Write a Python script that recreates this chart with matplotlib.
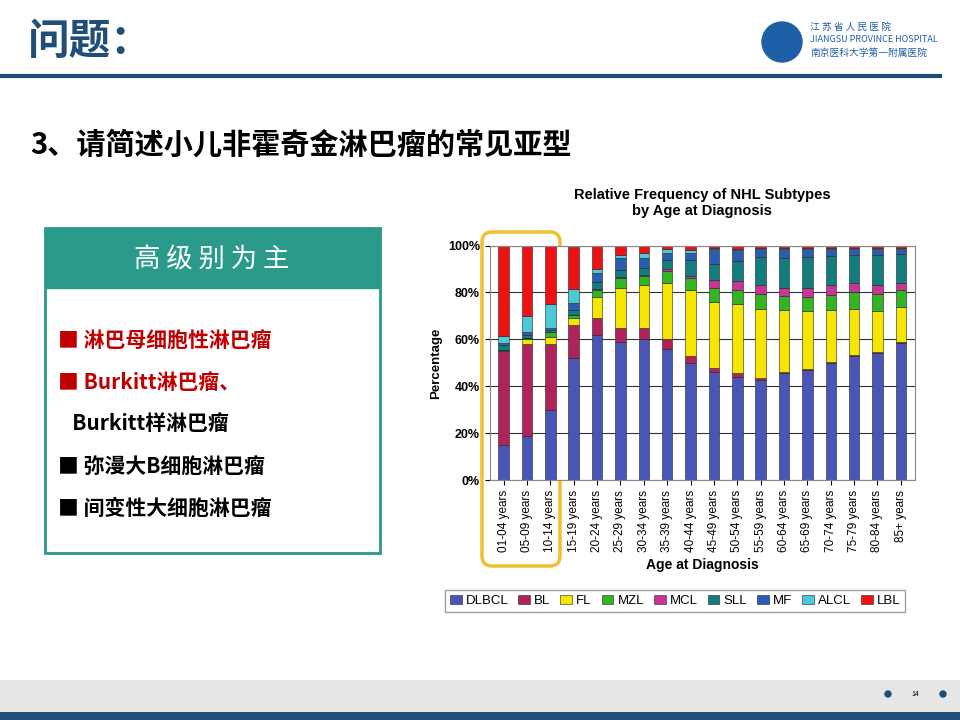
import matplotlib
matplotlib.use("Agg")
import matplotlib.pyplot as plt
from matplotlib.patches import Rectangle, FancyBboxPatch
import numpy as np

plt.rcParams['font.family'] = ['Noto Sans CJK SC', 'DejaVu Sans']
CF = 'Liberation Sans'

ages = ["01-04 years", "05-09 years", "10-14 years", "15-19 years", "20-24 years", "25-29 years",
        "30-34 years", "35-39 years", "40-44 years", "45-49 years", "50-54 years", "55-59 years",
        "60-64 years", "65-69 years", "70-74 years", "75-79 years", "80-84 years", "85+ years"]
subtypes = ["DLBCL", "BL", "FL", "MZL", "MCL", "SLL", "MF", "ALCL", "LBL"]
colors = ["#4a55b8", "#b0225a", "#f5e600", "#33b522", "#cc3399", "#137c7c", "#2a5cb0", "#4cc8d8", "#ee1111"]
DLBCL = [15, 19, 30, 52, 62, 59, 60, 56, 50, 46, 44, 42.5, 45.5, 47, 50, 53, 54, 58.5]
BL    = [40, 39, 28, 14, 7, 6, 5, 4, 3, 2, 1.5, 1, 0.5, 0.5, 0.5, 0.5, 0.5, 0.5]
FL    = [0, 2, 3, 3, 9, 17, 18, 24, 28, 28, 29.5, 29.5, 26.5, 24.5, 22, 19.5, 17.5, 15]
MZL   = [0.5, 0.5, 2, 1.5, 3, 4, 4, 5, 5, 6, 6, 6.5, 6, 6, 6.5, 7, 7.5, 7]
MCL   = [0, 0, 0, 0, 0.5, 0.5, 0.5, 1, 1, 3.5, 4, 3.5, 3.5, 4, 4, 4, 3.5, 3]
SLL   = [2, 1.5, 1, 2, 3, 3, 3, 4, 7, 6.5, 8.5, 12, 12.5, 13, 12.5, 12, 13, 12.5]
MF    = [1, 1, 1, 3, 4, 5, 4, 3, 3, 6.5, 4.5, 3.5, 4, 3.5, 3, 2.5, 2.5, 2]
ALCL  = [3, 7, 10, 6, 1.5, 1.5, 2.5, 1.5, 1, 0.5, 0.5, 0.5, 0.5, 0.5, 0.5, 0.5, 0.5, 0.5]
LBL   = [38.5, 30, 25, 18, 11, 4, 3, 1.5, 2, 1, 1.5, 1.5, 1, 1, 1, 1, 1, 1]
series = [DLBCL, BL, FL, MZL, MCL, SLL, MF, ALCL, LBL]
yticks = [0, 20, 40, 60, 80, 100]

fig = plt.figure(figsize=(9.6, 7.2), dpi=100)
bg = fig.add_axes([0, 0, 1, 1]); bg.set_xlim(0, 960); bg.set_ylim(720, 0); bg.axis('off')

# header
bg.text(28, 42, "问题：", fontsize=30, fontweight='bold', color='#1f4e79', va='center')
bg.plot([0, 940], [76, 76], color='#1f4e79', lw=3)
bg.add_patch(plt.Circle((782, 42), 20, color='#1f5fa8'))
bg.text(810, 27, "江 苏 省 人 民 医 院", fontsize=7, color='#1f5fa8', va='center')
bg.text(810, 40, "JIANGSU PROVINCE HOSPITAL", fontsize=6.5, color='#1f5fa8', va='center')
bg.text(810, 53, "南京医科大学第一附属医院", fontsize=7, color='#1f5fa8', va='center')
bg.text(30, 145, "3、请简述小儿非霍奇金淋巴瘤的常见亚型", fontsize=21, fontweight='bold', color='black', va='center')

# left box
bg.add_patch(Rectangle((45, 228), 335, 325, facecolor='white', edgecolor='#2a9a8a', lw=2))
bg.add_patch(Rectangle((45, 228), 335, 60, facecolor='#2a9a8a', edgecolor='#2a9a8a'))
bg.text(212, 260, "高 级 别 为 主", fontsize=19, color='white', ha='center', va='center')
items = [("■ 淋巴母细胞性淋巴瘤", '#c00000', 340),
         ("■ Burkitt淋巴瘤、", '#c00000', 382),
         ("   Burkitt样淋巴瘤", 'black', 423),
         ("■ 弥漫大B细胞淋巴瘤", 'black', 466),
         ("■ 间变性大细胞淋巴瘤", 'black', 508)]
for t, c, y in items:
    bg.text(58, y, t, fontsize=15, color=c, va='center', fontweight='bold')

# footer
bg.add_patch(Rectangle((0, 680), 960, 32, facecolor='#e6e6e6', edgecolor='none'))
bg.add_patch(Rectangle((0, 712), 960, 8, facecolor='#1f4e79', edgecolor='none'))
bg.text(915, 694, "14", fontsize=5, ha='center', va='center')
bg.add_patch(plt.Circle((888, 694), 3, color='#1f4e79'))
bg.add_patch(plt.Circle((943, 694), 3, color='#1f4e79'))

# chart
ax = fig.add_axes([0.51, 0.333, 0.443, 0.326])
x = np.arange(len(ages))
bottom = np.zeros(len(ages))
for name, vals, c in zip(subtypes, series, colors):
    v = np.array(vals, dtype=float)
    ax.bar(x, v, 0.45, bottom=bottom, color=c, edgecolor='#222222', lw=0.4, label=name)
    bottom += v
ax.set_ylim(0, 100); ax.set_xlim(-0.6, len(ages) - 0.4)
ax.set_yticks(yticks); ax.set_yticklabels([f"{t}%" for t in yticks], fontsize=9, fontweight='bold', family=CF)
ax.set_xticks(x); ax.set_xticklabels(ages, rotation=90, fontsize=8.5, family=CF)
ax.yaxis.grid(True, color='#333333', lw=0.8); ax.set_axisbelow(True)
ax.set_ylabel("Percentage", fontsize=9.5, fontweight='bold', family=CF)
ax.set_xlabel("Age at Diagnosis", fontsize=10, fontweight='bold', family=CF)
ax.set_title("Relative Frequency of NHL Subtypes\nby Age at Diagnosis", fontsize=10.5, fontweight='bold', pad=22, family=CF)
for s in ax.spines.values(): s.set_color('#888888')
fig.legend(loc='center', bbox_to_anchor=(675/960, 1 - 601/720), ncol=9,
           prop={'family': CF, 'size': 9.5},
           handlelength=0.9, handletextpad=0.3, columnspacing=0.75, frameon=True, edgecolor='#888888', fancybox=False)

bg.add_patch(FancyBboxPatch((482, 232), 78, 334, boxstyle="round,pad=0,rounding_size=10",
                            facecolor='none', edgecolor='#f0c030', lw=2.5))
fig.savefig("out.png", dpi=100)
